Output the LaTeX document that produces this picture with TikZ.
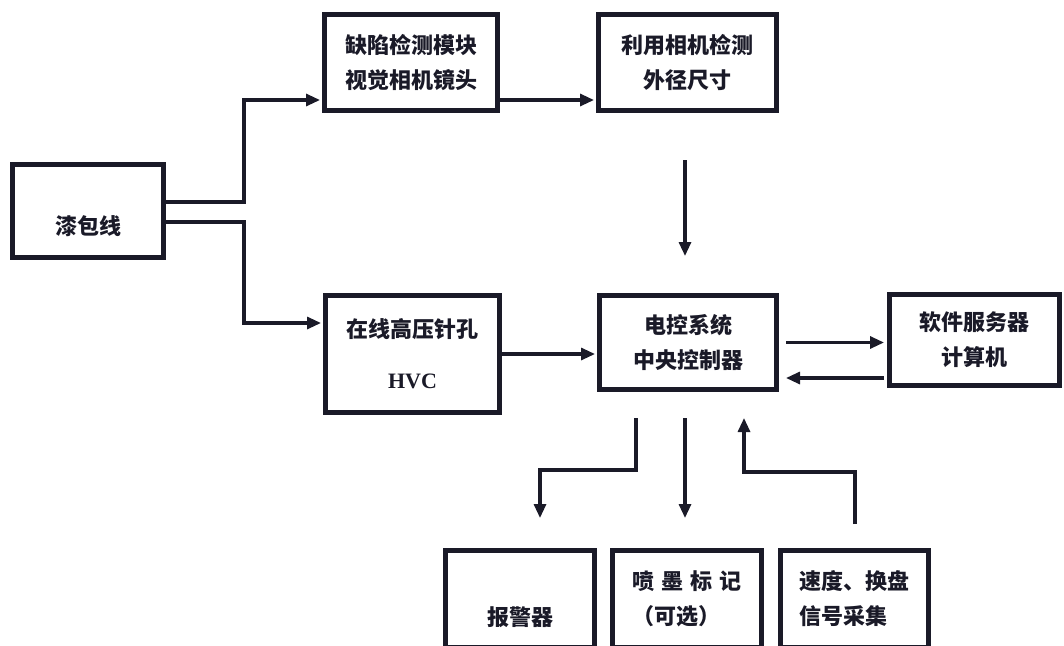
\documentclass[tikz,border=0pt]{standalone}
\usepackage{fontspec}
\setmainfont{Liberation Serif}
\newfontfamily\cjk{Noto Sans CJK SC}
\usetikzlibrary{arrows.meta,calc}
\definecolor{ink}{HTML}{1A1A28}
\begin{document}
\begin{tikzpicture}[x=1pt,y=-1pt,
  box/.style={draw=ink, line width=5pt, rectangle, inner sep=0pt,
    font=\cjk\bfseries\fontsize{22}{35}\selectfont, text=ink, align=center},
  arr/.style={draw=ink, line width=3.1pt, -{Triangle[length=14pt,width=12pt]}, shorten >=2pt},
  plain/.style={draw=ink, line width=3.1pt}]
\useasboundingbox (0,0) rectangle (1064,645);
\clip (0,0) rectangle (1064,645);
\fill[white] (0,0) rectangle (1064,645);

% boxes
\node[box, minimum width=151, minimum height=93] (wire) at (88,211) {\smash{\raisebox{-23pt}{漆包线}}};
\node[box, minimum width=173, minimum height=96] (defect) at (411,62.5) {缺陷检测模块\\视觉相机镜头};
\node[box, minimum width=178, minimum height=96] (measure) at (687.5,62.5) {利用相机检测\\外径尺寸};
\node[box, minimum width=174, minimum height=117] (hv) at (412.5,354) {在线高压针孔\\[16pt]{\rmfamily\bfseries HVC}};
\node[box, minimum width=177, minimum height=94] (ctrl) at (688,342.5) {电控系统\\中央控制器};
\node[box, minimum width=170, minimum height=91] (soft) at (974.5,340) {软件服务器\\计算机};
\node[box, minimum width=149, minimum height=97] (alarm) at (520,599) {\smash{\raisebox{-26pt}{报警器}}};
\node[box, minimum width=149, minimum height=97, align=left] (ink) at (687,599) {喷\hspace{7pt}墨\hspace{7pt}标\hspace{7pt}记\\（可选）};
\node[box, minimum width=148, minimum height=97, align=left] (speed) at (854.5,599) {速度、换盘\\信号采集};

% free connector ends
\coordinate (m1) at (685,160);
\coordinate (m2) at (685,256);
\coordinate (s1a) at (786,342.5);
\coordinate (s1b) at (884,342.5);
\coordinate (s2a) at (884,378);
\coordinate (s2b) at (786,378);
\coordinate (a1) at (636,418);
\coordinate (a2) at (636,470);
\coordinate (a3) at (540,470);
\coordinate (a4) at (540,518);
\coordinate (b1) at (685,418);
\coordinate (b2) at (685,518);
\coordinate (c1) at (855,524);
\coordinate (c2) at (855,472);
\coordinate (c3) at (744,472);
\coordinate (c4) at (744,418);

% connectors
\draw[arr] ([yshift=9pt]wire.east) -- ++(78,0) |- ([yshift=-37.5pt]defect.west);
\draw[arr] ([yshift=-11pt]wire.east) -- ++(78,0) |- ([yshift=31pt]hv.west);
\draw[arr] ([yshift=-37.5pt]defect.east) -- ([yshift=-37.5pt]measure.west);
\draw[arr, shorten >=0pt] (m1) -- (m2);
\draw[arr] (hv.east) -- (hv.east -| ctrl.west);
\draw[arr, shorten >=0pt] (s1a) -- (s1b);
\draw[arr, shorten >=0pt] (s2a) -- (s2b);
\draw[arr, shorten >=0pt] (a1) -- (a2) -- (a3) -- (a4);
\draw[arr, shorten >=0pt] (b1) -- (b2);
\draw[arr, shorten >=0pt] (c1) -- (c2) -- (c3) -- (c4);
\end{tikzpicture}
\end{document}
